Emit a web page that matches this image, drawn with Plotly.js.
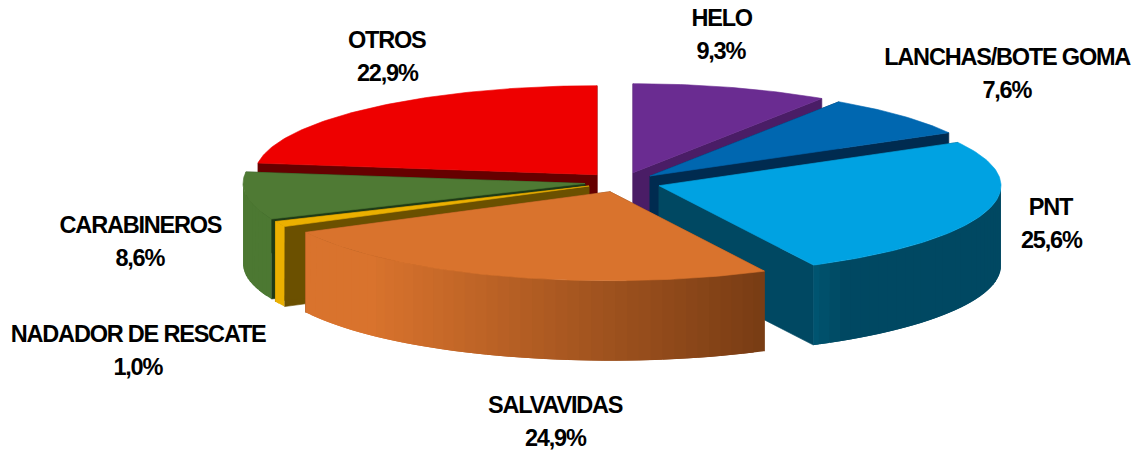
<!DOCTYPE html>
<html lang="es">
<head>
<meta charset="utf-8">
<script src="https://cdn.plot.ly/plotly-3.0.1.min.js"></script>
<style>html,body{margin:0;padding:0;background:#fff}#chart{width:1139px;height:457px}
.annotation text{letter-spacing:-1.2px}</style>
</head>
<body>
<div id="chart"></div>
<script>
// ---- data ----
const categories = ["HELO","LANCHAS/BOTE GOMA","PNT","SALVAVIDAS","NADADOR DE RESCATE","CARABINEROS","OTROS"];
const shares = [9.3,7.6,25.6,24.9,1.0,8.6,22.9];

// ---- style / layout ----
const topColors  = ["#6A2C91","#0067B0","#00A2E2","#D9732D","#EBB000","#4F7A34","#EE0000"];
const faceColors = ["#4A1D66","#002B50","#004862","#7A3F17","#6B5000","#1E3A16","#660000"];
const wallFrom   = ["#4A1D66","#002B50","#005470","#D9732D","#EBB000","#4C7832","#660000"];
const wallTo     = ["#4A1D66","#002B50","#004862","#783C14","#EBB000","#4C7832","#660000"];
const explodedX  = [633,650,659,610,589,585,597];
const explodedY  = [172.7,176,185.7,191.7,186,183.5,174.7];
const labelX     = [721,1007,1051,555,138,140,387];
const labelY     = [18,57,207,405,334,225,40];
const lineGap    = 33;
const radiusX = 342, radiusY = 89, depth = 80;
const paintOrder = [6,0,1,2,5,4,3];

// ---- geometry derived from the shares ----
const rad = d => d*Math.PI/180;
const total = shares.reduce((a,b)=>a+b,0);
let run = 0;
const startDeg = [], endDeg = [];
shares.forEach(s => { startDeg.push(run/total*360); run += s; endDeg.push(run/total*360); });

function rim(i,deg,drop){
  return [explodedX[i]+radiusX*Math.sin(rad(deg)), explodedY[i]-radiusY*Math.cos(rad(deg))+drop];
}
function poly(xs,ys,color,lw){
  return {type:"scatter",mode:"lines",x:xs,y:ys,fill:"toself",fillcolor:color,
    line:{color:color,width:lw===undefined?0.6:lw},hoverinfo:"skip",showlegend:false};
}
function hex(c){return [1,3,5].map(k=>parseInt(c.substr(k,2),16));}
function mix(a,b,t){const A=hex(a),B=hex(b);t=Math.max(0,Math.min(1,t));
  return "rgb("+A.map((v,k)=>Math.round(v+(B[k]-v)*t)).join(",")+")";}

const traces = [];
paintOrder.forEach(i => {
  const a = startDeg[i], b = endDeg[i];
  // radial cut faces
  [a,b].forEach(d => {
    const p = rim(i,d,0), q = rim(i,d,depth);
    traces.push(poly([explodedX[i],p[0],q[0],explodedX[i],explodedX[i]],
      [explodedY[i],p[1],q[1],explodedY[i]+depth,explodedY[i]],faceColors[i]));
  });
  // outer wall, only the part that faces the viewer; each band runs under the next one so no seam shows
  const w0 = Math.max(a,90), w1 = Math.min(b,270);
  if (w1 > w0) {
    const step = 2;
    for (let d=w0; d<w1; d+=step) {
      const e = Math.min(d+2*step,w1);
      const xs=[], ys=[];
      for (let g=d; g<e; g+=0.5){const p=rim(i,g,0); xs.push(p[0]); ys.push(p[1]);}
      const pe=rim(i,e,0), qe=rim(i,e,depth); xs.push(pe[0],qe[0]); ys.push(pe[1],qe[1]);
      for (let g=e-0.5; g>=d; g-=0.5){const q=rim(i,g,depth); xs.push(q[0]); ys.push(q[1]);}
      xs.push(xs[0]); ys.push(ys[0]);
      // shade follows the horizontal position on the rim
      const cx = rim(i,d+step/2,0)[0];
      let t;
      if (i===3) t = (cx-370)/395;
      else if (i===2) t = (cx-814)/30;
      else t = 0;
      const col = mix(wallFrom[i],wallTo[i],t);
      traces.push(poly(xs,ys,col,0));
    }
  }
  // top face
  const xs=[explodedX[i]], ys=[explodedY[i]];
  for (let d=a; d<b; d+=1) { const p=rim(i,d,0); xs.push(p[0]); ys.push(p[1]); }
  const last=rim(i,b,0); xs.push(last[0],explodedX[i]); ys.push(last[1],explodedY[i]);
  traces.push(poly(xs,ys,topColors[i]));
});

const font = {family:"'Liberation Sans', Arial, sans-serif",size:23.5,color:"#000000",weight:700};
const annotations = [];
categories.forEach((c,i) => {
  const pct = shares[i].toFixed(1).replace(".",",")+"%";
  annotations.push({x:labelX[i],y:labelY[i],xref:"x",yref:"y",text:"<b>"+c+"</b>",showarrow:false,font:font,xanchor:"center",yanchor:"middle"});
  annotations.push({x:labelX[i],y:labelY[i]+lineGap,xref:"x",yref:"y",text:"<b>"+pct+"</b>",showarrow:false,font:font,xanchor:"center",yanchor:"middle"});
});

Plotly.newPlot("chart",traces,{
  width:1139,height:457,margin:{l:0,r:0,t:0,b:0},
  paper_bgcolor:"#ffffff",plot_bgcolor:"#ffffff",showlegend:false,
  xaxis:{range:[0,1139],visible:false,fixedrange:true},
  yaxis:{range:[457,0],visible:false,fixedrange:true},
  annotations:annotations
},{displayModeBar:false,staticPlot:true});
</script>
</body>
</html>
